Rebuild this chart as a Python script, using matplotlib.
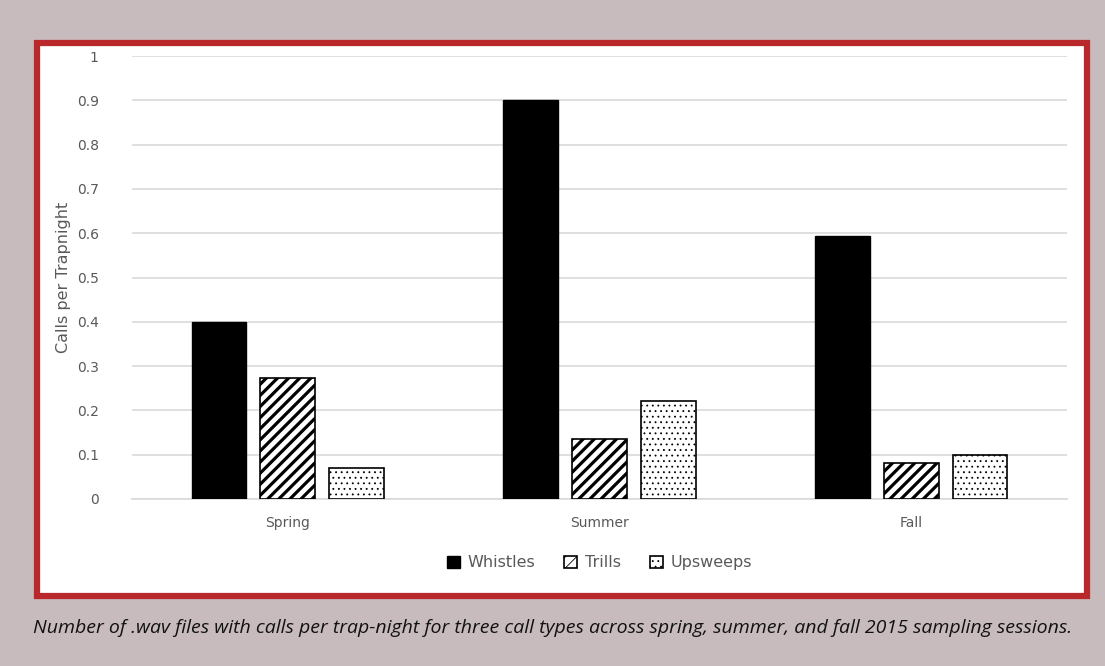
import matplotlib
matplotlib.use("Agg")
import matplotlib.pyplot as plt
import numpy as np
from matplotlib.patches import Rectangle

# data
seasons = ["Spring", "Summer", "Fall"]
whistles = [0.40, 0.90, 0.594]
trills = [0.273, 0.135, 0.081]
upsweeps = [0.07, 0.221, 0.099]
yticks = [0, 0.1, 0.2, 0.3, 0.4, 0.5, 0.6, 0.7, 0.8, 0.9, 1]
ytick_labels = ["0", "0.1", "0.2", "0.3", "0.4", "0.5", "0.6", "0.7", "0.8", "0.9", "1"]
caption = ("Number of .wav files with calls per trap-night for three call types across "
           "spring, summer, and fall 2015 sampling sessions.")

W, H = 1105, 666
fig = plt.figure(figsize=(W / 100, H / 100), dpi=100)
fig.patch.set_facecolor("#c8bbbe")

# white panel with red frame, on its own axes behind the chart
bg = fig.add_axes([0, 0, 1, 1], zorder=-1)
bg.set_xlim(0, W)
bg.set_ylim(H, 0)
bg.axis("off")
bg.add_patch(Rectangle((37, 43), 1087 - 37, 596 - 43, facecolor="white",
                       edgecolor="#b9282a", linewidth=4.5))

ax = fig.add_axes([132 / W, 1 - 499 / H, (1067 - 132) / W, (499 - 56) / H])
ax.set_facecolor("none")

x = np.arange(len(seasons))
w = 0.176
step = 0.221
ax.bar(x - step, whistles, w, color="black", edgecolor="black", linewidth=1, label="Whistles", zorder=3)
plt.rcParams["hatch.linewidth"] = 2.3
ax.bar(x, trills, w, color="white", edgecolor="black", hatch="///", linewidth=1.2, label="Trills", zorder=3)
plt.rcParams["hatch.linewidth"] = 0.6
ax.bar(x + step, upsweeps, w, color="white", edgecolor="black", hatch="...", linewidth=1.2, label="Upsweeps", zorder=3)

ax.set_xlim(-0.5, 2.5)
ax.set_ylim(0, 1)
ax.set_yticks(yticks)
ax.set_yticklabels(ytick_labels)
ax.set_xticks(x)
ax.set_xticklabels(seasons)
ax.grid(axis="y", color="#d9d9d9", linewidth=1.2, zorder=0)
for s in ["top", "right", "left"]:
    ax.spines[s].set_visible(False)
ax.spines["bottom"].set_color("#d9d9d9")
ax.spines["bottom"].set_linewidth(1.2)
ax.tick_params(axis="both", length=0, colors="#595959", labelsize=10)
ax.tick_params(axis="y", pad=24)
ax.tick_params(axis="x", pad=12)
ax.set_ylabel("Calls per Trapnight", color="#595959", fontsize=11.5, labelpad=4)

leg = ax.legend(loc="upper center", bbox_to_anchor=(0.5, -0.095), ncol=3, frameon=False,
                fontsize=11.5, handlelength=0.8, handleheight=0.8, handletextpad=0.5,
                columnspacing=1.8)
for t in leg.get_texts():
    t.set_color("#595959")

fig.text(0.5, 1 - 628 / H, caption, ha="center", va="center", fontsize=14,
         style="italic", family=["Open Sans", "DejaVu Sans"], color="#111111")

fig.savefig("out.png", dpi=100, facecolor=fig.get_facecolor())
